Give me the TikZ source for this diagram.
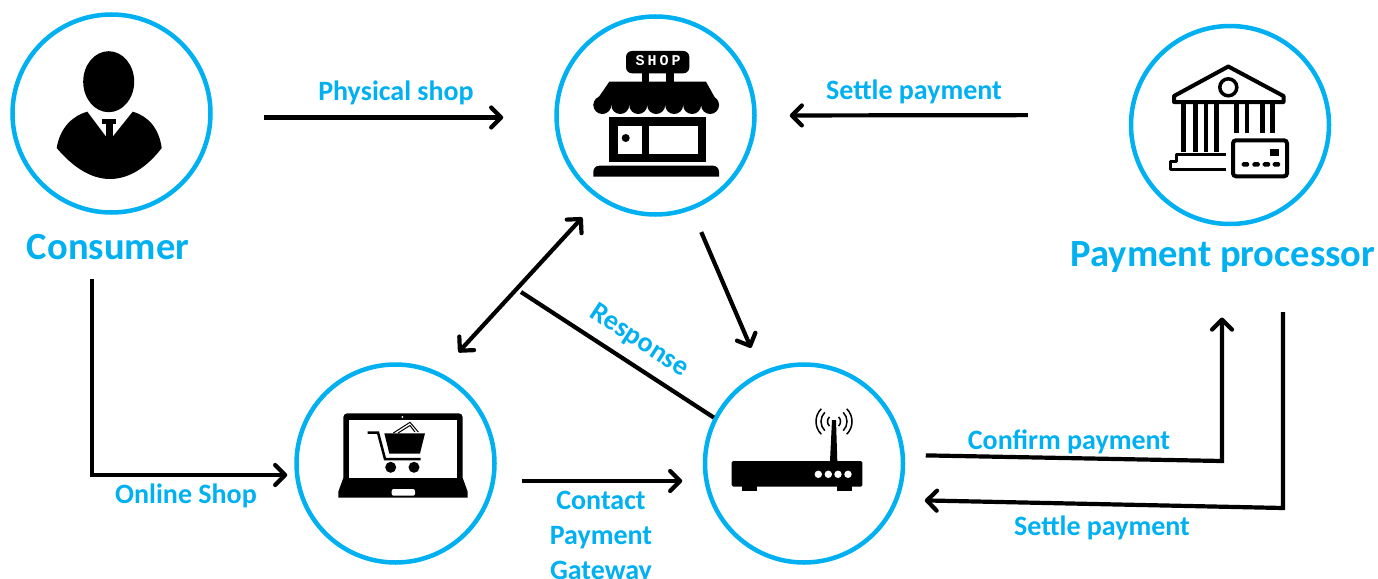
\documentclass[tikz,border=0pt]{standalone}
\usepackage{fontspec}
\setmainfont{Carlito}
\newfontfamily\shopfont[LetterSpace=20]{Liberation Mono}
\usetikzlibrary{arrows.meta}
\definecolor{hblue}{HTML}{00B0F0}
\tikzset{
  party/.style={circle, draw=hblue, line width=4.5pt, minimum size=198pt, inner sep=0pt},
  flow/.style={draw=black, line width=4.2pt, >={Straight Barb[length=10pt,width=20pt,line width=4.2pt,round]}},
  biglabel/.style={text=hblue, font=\fontsize{38.5}{40}\selectfont\bfseries},
  smalllabel/.style={text=hblue, font=\fontsize{28}{35}\selectfont\bfseries, align=center}
}

\begin{document}
\begin{tikzpicture}[x=1pt,y=-1pt]
  \useasboundingbox (0,0) rectangle (1378,578);

  \node[party] (consumer) at (111.5,113.5) {};
  \node[party] (shop) at (655.5,115.5) {};
  \node[party] (bank) at (1230,125) {};
  \node[party] (laptop) at (395.5,463.5) {};
  \node[party] (router) at (804,463.5) {};

  \node[biglabel] (consumerlabel) at (108,247) {Consumer};
  \node[biglabel] (banklabel) at (1223,257) {Payment processor};
  \node[smalllabel] (physicallabel) at (396,93) {Physical shop};
  \node[smalllabel] (settletoplabel) at (914,92) {Settle payment};
  \node[smalllabel, rotate=-33] (responselabel) at (639,341) {Response};
  \node[smalllabel] (onlinelabel) at (186,496) {Online Shop};
  \node[smalllabel] (contactlabel) at (601,538) {Contact\\Payment\\Gateway};
  \node[smalllabel] (confirmlabel) at (1069,442) {Confirm payment};
  \node[smalllabel] (settlelabel) at (1102,528) {Settle payment};

  \coordinate (consumerdrop) at (92,279);
  \coordinate (responsestart) at (521,292);
  \coordinate (confirmcorner) at (1222,461);
  \coordinate (confirmtip) at (1222,317.5);
  \coordinate (settlestart) at (1283,312);
  \coordinate (settlecorner) at (1283,508);

  \draw[flow,->,shorten <=51pt,shorten >=51pt] ([yshift=-4pt]consumer.east) -- ([yshift=-2pt]shop.west);
  \draw[flow,->,shorten <=101pt,shorten >=33pt] ([yshift=10pt]bank.west) -- (shop.east);
  \draw[flow,<->,shorten <=24.5pt,shorten >=27.5pt] (shop.236.8) -- (laptop.64.9);
  \draw[flow,->,shorten <=24pt,shorten >=26pt] (shop.-69.7) -- (router.115.6);
  \draw[flow] (responsestart) -- (router.153.4);
  \draw[flow,->,shorten <=25pt,shorten >=20.5pt] ([yshift=-17.5pt]laptop.east) -- ([yshift=-17.5pt]router.west);
  \draw[flow,->,shorten >=7pt] (consumerdrop) |- ([yshift=-11.5pt]laptop.west);
  \draw[flow,->,shorten <=20.5pt] ([yshift=8.5pt]router.east) -- (confirmcorner) -- (confirmtip);
  \draw[flow,->,shorten >=19.5pt] (settlestart) -- (settlecorner) -- ([yshift=-36.5pt]router.east);

  \fill (108.7,81.7) ellipse (25.5 and 30.5);
  \fill (56.7,148) .. controls (60,128) and (72,116) .. (87.3,111.7) -- (105.5,136) -- (113.3,136) -- (132.7,111.7)
    .. controls (148,116) and (159,128) .. (161.7,148) .. controls (148,166) and (130,179) .. (110,179)
    .. controls (90,179) and (72,166) .. (56.7,148) -- cycle;
  \fill (101.7,118.5) rectangle (116,124);
  \fill (105.5,124) rectangle (113.3,136);

  \fill[rounded corners=6pt] (626,51) rectangle (689.3,73.3);
  \node[text=white, font=\shopfont\fontsize{15}{15}\selectfont\bfseries] (shopsign) at (658,61) {SHOP};
  \fill (641.7,73) rectangle (649.3,82);
  \fill (666,73) rectangle (674,82);
  \fill (609.3,81.7) -- (706,81.7) -- (719,105) -- (593.3,105) -- cycle;
  \foreach \i in {0,...,6}
    \fill ({602.3+\i*17.96},105) circle (9);
  \fill (609.3,117.3) rectangle (706,162.3);
  \fill[white] (617.7,125.7) rectangle (641.7,154);
  \fill[white] (649.3,125.7) rectangle (697.7,154);
  \fill (625.7,138) circle (4);
  \fill (593.3,176.7) [rounded corners=6pt] -- (593.3,165.7) -- (719,165.7) [sharp corners] -- (719,176.7) -- cycle;

  \draw[line width=4pt, line join=round] (1228.3,66.5) -- (1283.5,96) -- (1283.5,102) -- (1174,102) -- (1174,96) -- cycle;
  \draw[line width=3.5pt] (1228.3,87.3) circle (8.5);
  \foreach \x in {1183.5,1195.5,1206,1216.5}
    \fill (\x-2.2,104) rectangle (\x+2.2,152);
  \foreach \x in {1236.5,1247,1262.5,1272.5}
    \fill (\x-2.2,104) rectangle (\x+2.2,133.3);
  \draw[line width=3.5pt, line join=round] (1226,154.3) -- (1176.7,154.3) -- (1176.7,161.7) -- (1170.7,161.7) -- (1170.7,169.3) -- (1226,169.3);
  \draw[line width=4pt, rounded corners=3pt] (1233,140.3) rectangle (1287,176.3);
  \fill (1270,149) rectangle (1279,156);
  \foreach \x in {1241.7,1252.3,1262.7,1272.7}
    \fill[rounded corners=1.5pt] (\x,162.2) rectangle (\x+7.5,166.6);

  \fill[rounded corners=4pt] (343.3,482) -- (343.3,413.3) -- (462.7,413.3) -- (462.7,482) -- cycle;
  \fill (343.3,478) -- (462.7,478) -- (467.7,491.7) -- (467.7,497.7) -- (338.3,497.7) -- (338.3,491.7) -- cycle;
  \fill[white] (349.3,420) rectangle (456.7,478.3);
  \fill[white, rounded corners=2pt] (391.7,489) rectangle (415,495.7);
  \fill[white] (402.3,417) circle (1);
  \draw[line width=2.5pt] (367.7,432.5) -- (378,432.5) -- (385,459) -- (420.7,459);
  \fill (384.3,433.3) -- (425,433.3) -- (420,453.5) -- (389.3,453.5) -- cycle;
  \fill (390.7,467.3) circle (5.5);
  \fill (414,467.3) circle (5.5);
  \draw[line width=1pt] (393.3,433) -- (410,422.3) -- (418.3,432);
  \draw[line width=1pt] (398,433) -- (410,425.5) -- (415,432);

  \fill[rounded corners=1.5pt] (731.7,461) rectangle (862.3,486.7);
  \fill (742.3,486) rectangle (757.3,491);
  \fill (836.7,486) rectangle (852.3,491);
  \fill (830,461) -- (837.3,461) -- (836,420) -- (832,420) -- cycle;
  \foreach \x in {818.3,828.3,838,848}
    \fill[white] (\x,474.3) circle (3.7);
  \foreach \r in {6.5,13,18} {
    \draw[line width=1.5pt] ({834+\r*cos(45)},{421.5-\r*sin(45)}) arc (45:-45:\r pt);
    \draw[line width=1.5pt] ({834-\r*cos(45)},{421.5-\r*sin(45)}) arc (135:225:\r pt);
  }
\end{tikzpicture}
\end{document}
